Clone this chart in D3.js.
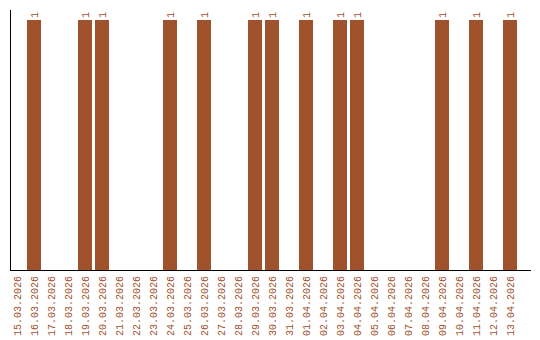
<!DOCTYPE html>
<html>
<head>
<meta charset="utf-8">
<script src="https://cdn.jsdelivr.net/npm/d3@7"></script>
<style>
  body { margin: 0; background: #fff; }
  text { font-family: "Liberation Mono", "DejaVu Sans Mono", monospace; font-size: 10px; fill: #a0522d; }
</style>
</head>
<body>
<script>
var days = ["15.03.2026","16.03.2026","17.03.2026","18.03.2026","19.03.2026","20.03.2026",
            "21.03.2026","22.03.2026","23.03.2026","24.03.2026","25.03.2026","26.03.2026",
            "27.03.2026","28.03.2026","29.03.2026","30.03.2026","31.03.2026","01.04.2026",
            "02.04.2026","03.04.2026","04.04.2026","05.04.2026","06.04.2026","07.04.2026",
            "08.04.2026","09.04.2026","10.04.2026","11.04.2026","12.04.2026","13.04.2026"];
var counts = [0,1,0,0,1,1, 0,0,0,1,0,1, 0,0,1,1,0,1, 0,1,1,0,0,0, 0,1,0,1,0,1];

var svgWidth = 540, svgHeight = 340;
var plotLeft = 10, plotTop = 10, plotBottom = 270, plotRight = 530;

var svg = d3.select("body").append("svg")
    .attr("width", svgWidth)
    .attr("height", svgHeight);

var x = d3.scaleBand()
    .domain(days)
    .range([plotLeft, plotLeft + 17 * days.length]);

var y = d3.scaleLinear()
    .domain([0, 1.04])
    .range([plotBottom, plotTop]);

var data = days.map(function(d, i) { return {day: d, n: counts[i]}; });
var barW = x.bandwidth() - 3;

// bars
svg.selectAll("rect.bar")
    .data(data.filter(function(d) { return d.n > 0; }))
    .enter()
  .append("rect")
    .attr("class", "bar")
    .attr("x", function(d) { return x(d.day); })
    .attr("y", function(d) { return y(d.n); })
    .attr("width", barW)
    .attr("height", function(d) { return y(0) - y(d.n); })
    .attr("fill", "#a0522d");

// value labels
svg.selectAll("text.val")
    .data(data.filter(function(d) { return d.n > 0; }))
    .enter()
  .append("text")
    .attr("class", "val")
    .attr("transform", function(d) {
        return "translate(" + (x(d.day) + barW / 2) + "," + (y(d.n) - 2) + ") rotate(-90)";
    })
    .attr("dy", "0.35em")
    .attr("text-anchor", "start")
    .text(function(d) { return d.n; });

// axis lines
svg.append("line")
    .attr("x1", plotLeft + 0.5).attr("x2", plotLeft + 0.5)
    .attr("y1", plotTop).attr("y2", plotBottom + 1)
    .attr("stroke", "#000");
svg.append("line")
    .attr("x1", plotLeft).attr("x2", plotRight + 1)
    .attr("y1", plotBottom + 0.5).attr("y2", plotBottom + 0.5)
    .attr("stroke", "#000");

// date labels
svg.selectAll("text.day")
    .data(days)
    .enter()
  .append("text")
    .attr("class", "day")
    .attr("transform", function(d) {
        return "translate(" + (x(d) + x.bandwidth() / 2 - 1) + "," + (plotBottom + 6) + ") rotate(-90)";
    })
    .attr("dy", "0.35em")
    .attr("text-anchor", "end")
    .text(function(d) { return d; });
</script>
</body>
</html>
